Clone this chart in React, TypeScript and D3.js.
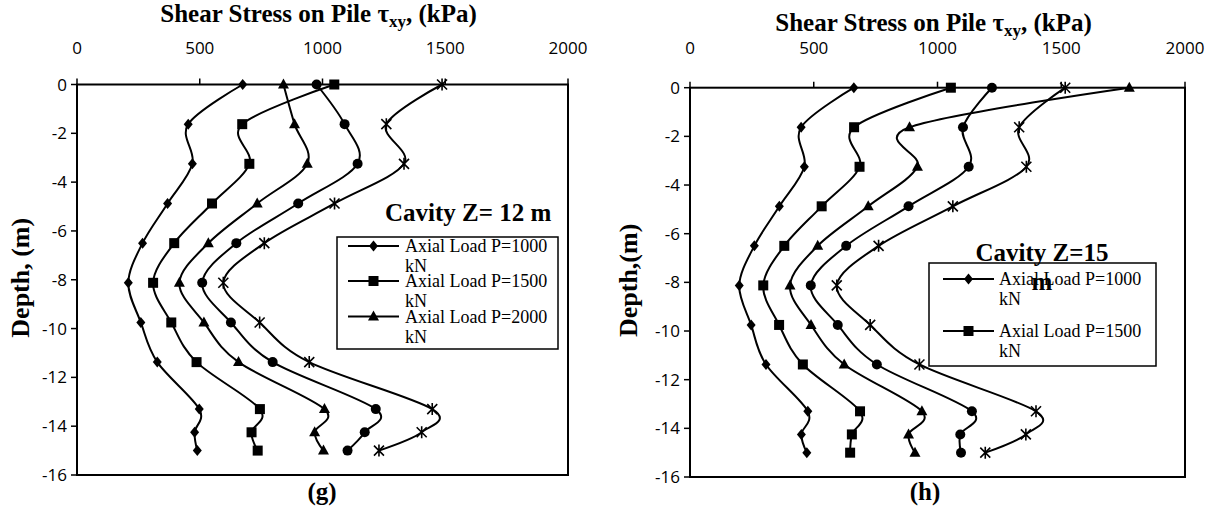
import React from "react";
import * as d3 from "d3";

const depths = [0, -1.625, -3.25, -4.875, -6.5, -8.125, -9.75, -11.375, -13.3, -14.25, -15];

const gP1000 = [675, 453, 470, 369, 267, 209, 260, 327, 498, 479, 490];
const gP1500 = [1048, 673, 702, 550, 396, 310, 384, 487, 745, 711, 736];
const gP2000 = [841, 886, 938, 734, 535, 417, 517, 658, 1008, 968, 1004];
const gCircle = [976, 1090, 1143, 901, 649, 510, 627, 797, 1217, 1172, 1102];
const gStar = [1487, 1260, 1332, 1049, 763, 596, 744, 946, 1447, 1404, 1230];

const hP1000 = [662, 449, 462, 361, 260, 199, 247, 307, 476, 450, 472];
const hP1500 = [1054, 663, 685, 532, 381, 296, 360, 456, 687, 654, 647];
const hP2000 = [1775, 887, 919, 720, 516, 404, 489, 623, 937, 883, 909];
const hCircle = [1220, 1103, 1126, 883, 631, 488, 597, 755, 1139, 1092, 1095];
const hStar = [1516, 1330, 1359, 1062, 762, 593, 728, 927, 1398, 1357, 1193];

const xTicks = [0, 500, 1000, 1500, 2000];
const yTicks = [0, -2, -4, -6, -8, -10, -12, -14, -16];

type Shape = "diamond" | "square" | "triangle" | "circle" | "star";

const Marker = ({ shape, x, y }: { shape: Shape; x: number; y: number }) => {
  const t = `translate(${x},${y})`;
  switch (shape) {
    case "diamond":
      return <path transform={t} d="M0,-5.5L4.5,0L0,5.5L-4.5,0Z" fill="#000" />;
    case "square":
      return <rect transform={t} x={-5} y={-5} width={10} height={10} fill="#000" />;
    case "triangle":
      return <path transform={t} d="M0,-6L5.5,4L-5.5,4Z" fill="#000" />;
    case "circle":
      return <circle transform={t} r={5} fill="#000" />;
    case "star":
      return (
        <path
          transform={t}
          d="M-5,-5L5,5M-5,5L5,-5M0,-6L0,6"
          stroke="#000"
          strokeWidth={1.6}
          fill="none"
        />
      );
  }
};

const serif = "'Liberation Serif', 'Times New Roman', serif";
const sans = "'Open Sans', 'Liberation Sans', sans-serif";

interface PanelProps {
  x0: number;
  x1: number;
  y0: number;
  y1: number;
  series: { values: number[]; shape: Shape }[];
  titleY: number;
  depthLabel: string;
  depthX: number;
  tag: string;
  tagX: number;
  legend: { x0: number; x1: number; y0: number; y1: number; textX: number; symX0: number; symX1: number; entries: { label: string; shape: Shape; y: number }[] };
  cavity: { lines: string[]; x: number; y: number; anchor: "start" | "middle"; lh: number };
}

const Panel = (p: PanelProps) => {
  const x = d3.scaleLinear().domain([0, 2000]).range([p.x0, p.x1]);
  const y = d3.scaleLinear().domain([0, -16]).range([p.y0, p.y1]);
  const line = d3
    .line<number>()
    .x((d) => x(d))
    .y((_, i) => y(depths[i]))
    .curve(d3.curveCatmullRom.alpha(0));
  const cx = (p.x0 + p.x1) / 2;
  const cy = (p.y0 + p.y1) / 2;
  return (
    <g>
      {/* title */}
      <text x={cx - 4} y={p.titleY} textAnchor="middle" fontFamily={serif} fontWeight="bold" fontSize={25}>
        Shear Stress on Pile τ
        <tspan fontSize={17} dy={5}>xy</tspan>
        <tspan dy={-5}>, (kPa)</tspan>
      </text>
      {/* x tick labels */}
      {xTicks.map((t) => (
        <text key={t} x={x(t)} y={54} textAnchor="middle" fontFamily={sans} fontSize={17}>
          {t}
        </text>
      ))}
      {/* y tick labels */}
      {yTicks.map((t) => (
        <text key={t} x={p.x0 - 10} y={y(t) + 6} textAnchor="end" fontFamily={sans} fontSize={17}>
          {t}
        </text>
      ))}
      {/* plot border */}
      <rect x={p.x0} y={p.y0} width={p.x1 - p.x0} height={p.y1 - p.y0} fill="none" stroke="#000" strokeWidth={2} />
      {xTicks.map((t) => (
        <line key={t} x1={x(t)} x2={x(t)} y1={p.y0} y2={p.y0 - 6} stroke="#000" strokeWidth={1.5} />
      ))}
      {yTicks.map((t) => (
        <line key={t} x1={p.x0} x2={p.x0 - 6} y1={y(t)} y2={y(t)} stroke="#000" strokeWidth={1.5} />
      ))}
      {/* series */}
      {p.series.map((s, si) => (
        <g key={si}>
          <path d={line(s.values) || ""} fill="none" stroke="#000" strokeWidth={2} />
          {s.values.map((v, i) => (
            <Marker key={i} shape={s.shape} x={x(v)} y={y(depths[i])} />
          ))}
        </g>
      ))}
      {/* legend */}
      <rect
        x={p.legend.x0}
        y={p.legend.y0}
        width={p.legend.x1 - p.legend.x0}
        height={p.legend.y1 - p.legend.y0}
        fill="#fff"
        stroke="#000"
        strokeWidth={1.5}
      />
      {p.legend.entries.map((e, i) => (
        <g key={i}>
          <line x1={p.legend.symX0} x2={p.legend.symX1} y1={e.y} y2={e.y} stroke="#000" strokeWidth={2} />
          <Marker shape={e.shape} x={(p.legend.symX0 + p.legend.symX1) / 2} y={e.y} />
          <text x={p.legend.textX} y={e.y + 6} fontFamily={serif} fontSize={18}>
            {e.label}
            <tspan x={p.legend.textX} dy={20}>kN</tspan>
          </text>
        </g>
      ))}
      {/* cavity label */}
      <text x={p.cavity.x} y={p.cavity.y} textAnchor={p.cavity.anchor} fontFamily={serif} fontWeight="bold" fontSize={25}>
        {p.cavity.lines.map((l, i) => (
          <tspan key={i} x={p.cavity.x} dy={i === 0 ? 0 : p.cavity.lh}>
            {l}
          </tspan>
        ))}
      </text>
      {/* depth label */}
      <text
        transform={`translate(${p.depthX},${cy - 2}) rotate(-90)`}
        textAnchor="middle"
        dominantBaseline="central"
        fontFamily={serif}
        fontWeight="bold"
        fontSize={26}
      >
        {p.depthLabel}
      </text>
      {/* panel tag */}
      <text x={p.tagX} y={500} textAnchor="middle" fontFamily={serif} fontWeight="bold" fontSize={25}>
        {p.tag}
      </text>
    </g>
  );
};

export default function App() {
  return (
    <svg
      width={1218}
      height={515}
      viewBox="0 0 1218 515"
      style={{ position: "absolute", left: 0, top: 0, background: "#fff" }}
    >
      <rect width={1218} height={515} fill="#fff" />
      <Panel
        x0={77}
        x1={568}
        y0={84.5}
        y1={475}
        titleY={22}
        depthLabel="Depth, (m)"
        depthX={20}
        tag="(g)"
        tagX={322}
        series={[
          { values: gP1000, shape: "diamond" },
          { values: gP1500, shape: "square" },
          { values: gP2000, shape: "triangle" },
          { values: gCircle, shape: "circle" },
          { values: gStar, shape: "star" },
        ]}
        legend={{
          x0: 337,
          x1: 558,
          y0: 237,
          y1: 349,
          textX: 405,
          symX0: 348,
          symX1: 399,
          entries: [
            { label: "Axial Load P=1000", shape: "diamond", y: 246 },
            { label: "Axial Load P=1500", shape: "square", y: 281 },
            { label: "Axial Load P=2000", shape: "triangle", y: 316.5 },
          ],
        }}
        cavity={{ lines: ["Cavity Z= 12 m"], x: 385, y: 221, anchor: "start", lh: 29 }}
      />
      <Panel
        x0={690}
        x1={1185}
        y0={87.7}
        y1={477}
        titleY={31}
        depthLabel="Depth,(m)"
        depthX={628}
        tag="(h)"
        tagX={925}
        series={[
          { values: hP1000, shape: "diamond" },
          { values: hP1500, shape: "square" },
          { values: hP2000, shape: "triangle" },
          { values: hCircle, shape: "circle" },
          { values: hStar, shape: "star" },
        ]}
        legend={{
          x0: 929,
          x1: 1156,
          y0: 263,
          y1: 366,
          textX: 999,
          symX0: 943,
          symX1: 994,
          entries: [
            { label: "Axial Load P=1000", shape: "diamond", y: 279 },
            { label: "Axial Load P=1500", shape: "square", y: 331 },
          ],
        }}
        cavity={{ lines: ["Cavity Z=15", "m"], x: 1042, y: 261, anchor: "middle", lh: 29 }}
      />
    </svg>
  );
}
